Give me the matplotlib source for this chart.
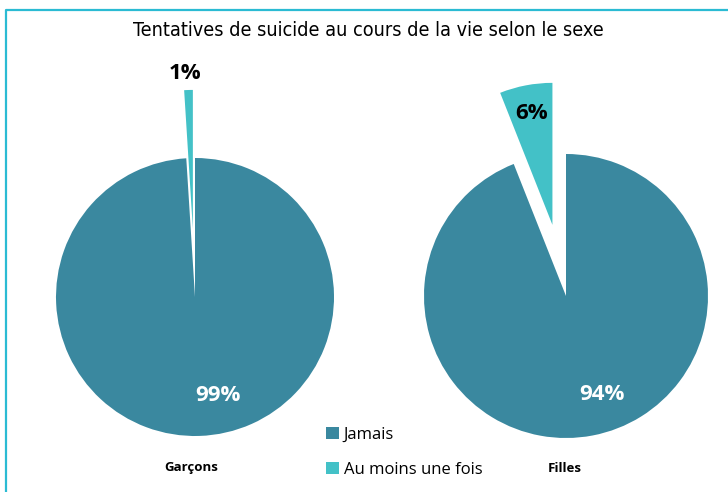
import numpy as np
import matplotlib.pyplot as plt
from matplotlib.lines import Line2D
from matplotlib.patches import Patch

TITLE = "Tentatives de suicide au cours de la vie selon le sexe"
CATEGORIES = ["Jamais", "Au moins une fois"]
GROUPS = ["Garçons", "Filles"]
GARCONS = [99, 1]
FILLES = [94, 6]

DARK = "#3A889F"
LIGHT = "#43C1C7"
FRAME = "#2BBBD3"

W, H = 728, 492
fig = plt.figure(figsize=(W / 100, H / 100), dpi=100)
ax = fig.add_axes([0, 0, 1, 1])


def draw_pie(values, cx, cy, r, explode, label_spec):
    # explode is given as a fraction of the radius
    wedges, _ = ax.pie(values, colors=[DARK, LIGHT], startangle=90,
                       counterclock=False, explode=[0, explode * r],
                       center=(cx, cy), radius=r,
                       wedgeprops=dict(linewidth=0))
    for w, v, (ang_off, dist, color) in zip(wedges, values, label_spec):
        mid = np.deg2rad((w.theta1 + w.theta2) / 2 + ang_off)
        x0, y0 = w.center
        ax.text(x0 + dist * r * np.cos(mid), y0 + dist * r * np.sin(mid),
                f"{v}%", ha="center", va="center", fontsize=16,
                fontweight="bold", color=color, family="Open Sans")


draw_pie(GARCONS, 195, H - 297, 139, 0.49,
         [(11, 0.73, "white"), (1, 1.12, "black")])
draw_pie(FILLES, 566, H - 296, 142, 0.51,
         [(9, 0.74, "white"), (0, 0.80, "black")])

ax.set_xlim(0, W)
ax.set_ylim(0, H)
ax.set_aspect("equal")
ax.set_axis_off()

# chart frame (top and left edges only remain in view)
ax.add_line(Line2D([6, 6, W], [0, H - 9.5, H - 9.5], color=FRAME, lw=1.6))

fig.text(368 / W, 1 - 30 / H, TITLE, ha="center", va="center",
         fontsize=14.2, fontstretch="condensed",
         family=["DejaVu Sans"])

fig.text(191 / W, 1 - 468 / H, GROUPS[0], ha="center", va="center",
         fontsize=9.5, fontweight="bold", family="Open Sans")
fig.text(565 / W, 1 - 469 / H, GROUPS[1], ha="center", va="center",
         fontsize=9.5, fontweight="bold", family="Open Sans")

handles = [Patch(facecolor=c, edgecolor="none") for c in (DARK, LIGHT)]
fig.legend(handles, CATEGORIES, loc="upper left",
           bbox_to_anchor=(311 / W, 1 - 412 / H), frameon=False,
           prop=dict(family="Open Sans", size=12), handlelength=0.75,
           handleheight=0.75, handletextpad=0.3, labelspacing=1.15)

fig.savefig("out.png", dpi=100)
